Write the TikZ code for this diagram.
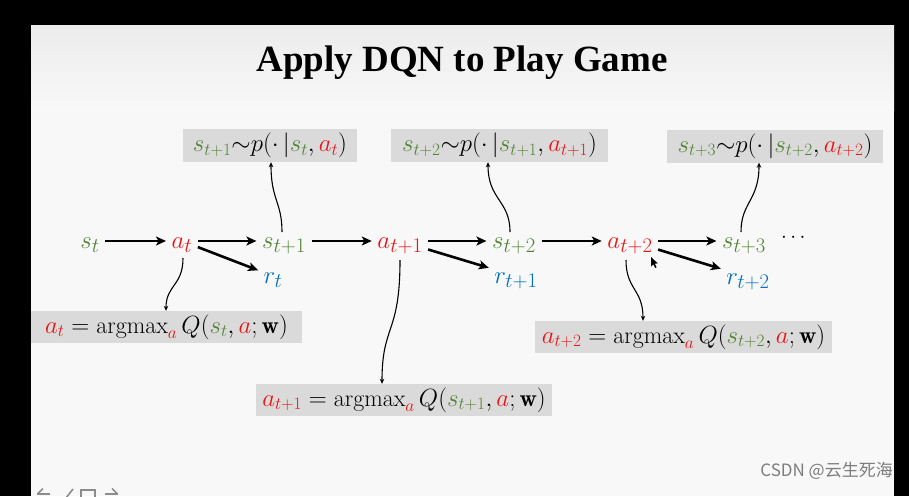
\documentclass[tikz,border=0pt]{standalone}
\usepackage{amsmath}
\usepackage{fontspec}
\newfontfamily\titlefam{Liberation Serif}
\newfontfamily\cjkfam{Noto Sans CJK SC}
\usetikzlibrary{arrows.meta,calc}
\definecolor{sg}{RGB}{84,130,53}
\definecolor{ar}{RGB}{235,20,20}
\definecolor{rb}{RGB}{0,112,192}
\definecolor{boxg}{RGB}{218,218,218}
\definecolor{slidebg}{RGB}{248,248,248}
\definecolor{slidetop}{RGB}{236,236,236}
\definecolor{wmark}{RGB}{125,125,125}
\newcommand\Sg[1]{\textcolor{sg}{#1}}
\newcommand\Ar[1]{\textcolor{ar}{#1}}
\newcommand\Rb[1]{\textcolor{rb}{#1}}
\tikzset{
  mainnode/.style={font=\fontsize{30}{36}\selectfont, inner sep=2.5pt, text height=20pt, text depth=6pt, anchor=base},
  bigarrow/.style={line width=2.6pt, -{Stealth[length=10pt,width=9pt,inset=2.5pt]}, shorten <=3pt, shorten >=3pt},
  thinarrow/.style={line width=1.1pt, -{Stealth[length=5pt,width=4.5pt]}},
  gbox/.style={fill=boxg, inner sep=0pt, font=\fontsize{24}{28}\selectfont},
}
\begin{document}
\begin{tikzpicture}[x=1pt,y=-1pt]
\useasboundingbox (0,0) rectangle (909,496);
% frame and slide
\fill[black] (0,0) rectangle (909,496);
\fill[slidebg] (31,25) rectangle (894,496);
\shade[top color=slidetop, bottom color=slidebg] (31,25) rectangle (894,110);

% title
\node[anchor=base, font=\titlefam\bfseries\fontsize{37}{42}\selectfont] (title) at (462,71) {Apply DQN to Play Game};

% main chain
\node[mainnode] (st) at (90,248) {$\Sg{s_t}$};
\node[mainnode] (at) at (182,248) {$\Ar{a_t}$};
\node[mainnode] (s1) at (284,248) {$\Sg{s_{t+1}}$};
\node[mainnode] (r0) at (273,283) {$\Rb{r_t}$};
\node[mainnode] (a1) at (400,248) {$\Ar{a_{t+1}}$};
\node[mainnode] (s2) at (514,248) {$\Sg{s_{t+2}}$};
\node[mainnode] (r1) at (516,283) {$\Rb{r_{t+1}}$};
\node[mainnode] (a2) at (630,248) {$\Ar{a_{t+2}}$};
\node[mainnode] (s3) at (744,248) {$\Sg{s_{t+3}}$};
\node[mainnode] (r2) at (748,284) {$\Rb{r_{t+2}}$};
\node[font=\fontsize{21}{24}\selectfont, inner sep=0pt] (dots) at (795,238) {$\cdots$};

\draw[bigarrow] (st) -- (at);
\draw[bigarrow] (at) -- (s1);
\draw[bigarrow] (at) -- (r0);
\draw[bigarrow] (s1) -- (a1);
\draw[bigarrow] (a1) -- (s2);
\draw[bigarrow] (a1) -- (r1);
\draw[bigarrow] (s2) -- (a2);
\draw[bigarrow] (a2) -- (s3);
\draw[bigarrow] (a2) -- (r2);

% transition boxes
\node[gbox, minimum width=174pt, minimum height=33pt] (b1) at (270,145.5)
  {$\Sg{s_{t+1}}{\sim}p(\cdot\,|\Sg{s_t},\Ar{a_t})$};
\node[gbox, minimum width=217pt, minimum height=33pt] (b2) at (499.5,145.5)
  {$\Sg{s_{t+2}}{\sim}p(\cdot\,|\Sg{s_{t+1}},\Ar{a_{t+1}})$};
\node[gbox, minimum width=216pt, minimum height=33pt] (b3) at (775,146)
  {$\Sg{s_{t+3}}{\sim}p(\cdot\,|\Sg{s_{t+2}},\Ar{a_{t+2}})$};

% policy boxes
\node[gbox, minimum width=271pt, minimum height=32pt] (b4) at (166.5,327)
  {$\Ar{a_t}=\mathrm{argmax}_{\Ar{a}}\,Q(\Sg{s_t},\Ar{a};\mathbf{w})$};
\node[gbox, minimum width=296pt, minimum height=32pt] (b5) at (404,400)
  {$\Ar{a_{t+1}}=\mathrm{argmax}_{\Ar{a}}\,Q(\Sg{s_{t+1}},\Ar{a};\mathbf{w})$};
\node[gbox, minimum width=297pt, minimum height=32pt] (b6) at (683.5,337)
  {$\Ar{a_{t+2}}=\mathrm{argmax}_{\Ar{a}}\,Q(\Sg{s_{t+2}},\Ar{a};\mathbf{w})$};

% wiggly connectors up to transition boxes
\draw[thinarrow] ([xshift=-2pt,yshift=9pt]s1.center) .. controls +(0,-30) and +(0,38) .. ([xshift=1pt]b1.south);
\draw[thinarrow] ([xshift=-4pt,yshift=9pt]s2.center) .. controls +(0,-32) and +(0,38) .. ([xshift=-11.5pt]b2.south);
\draw[thinarrow] ([xshift=-3pt,yshift=9pt]s3.center) .. controls +(0,-30) and +(0,38) .. ([xshift=-16pt]b3.south);

% wiggly connectors down to policy boxes
\draw[thinarrow] ([xshift=1pt,yshift=-17pt]at.center) .. controls +(0,28) and +(0,-26) .. ([xshift=-0.5pt]b4.north);
\draw[thinarrow] ([yshift=-19pt]a1.center) .. controls +(0,75) and +(0,-60) .. ([xshift=-22pt]b5.north);
\draw[thinarrow] ([xshift=-4pt,yshift=-19pt]a2.center) .. controls +(0,30) and +(0,-32) .. ([xshift=-40.5pt]b6.north);

% mouse pointer
\fill[black] (651,257) -- (651,266.5) -- (653.3,264.2) -- (655.2,268) -- (656.6,267.3) -- (654.8,263.6) -- (657.8,263.4) -- cycle;

% watermark
\node[anchor=east, font=\cjkfam\fontsize{17}{20}\selectfont, text=wmark, inner sep=0pt] (wm) at (893,471) {CSDN @云生死海};

% player controls (partly cut off)
\begin{scope}[draw=black!45, line width=1.6pt]
\draw (37,494) -- (50,494);
\draw (43,488.5) -- (37.5,494);
\draw (66,498) -- (73,489);
\draw (81,490) rectangle (95,502);
\draw (105,494) -- (118,494);
\draw (112,488.5) -- (117.5,494);
\end{scope}
\end{tikzpicture}
\end{document}
